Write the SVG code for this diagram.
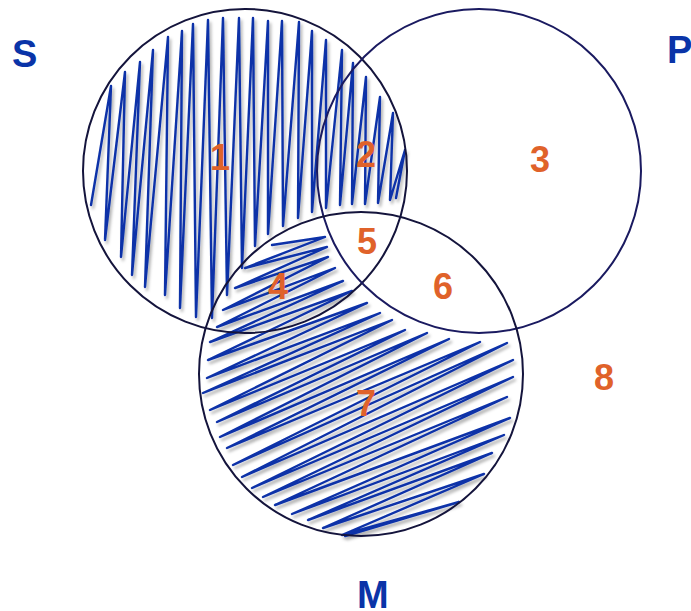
<svg xmlns="http://www.w3.org/2000/svg" width="691" height="611" viewBox="0 0 691 611">
<style>
.bg{fill:#ffffff}
.circ{fill:none;stroke:#14143c;stroke-width:2}
.hatch{fill:none;stroke:#0a30a8;stroke-width:2.4;stroke-linejoin:round;stroke-linecap:round;filter:url(#sh)}
.set{font-family:"Liberation Sans",Arial,sans-serif;font-weight:bold;font-size:38px;fill:#0a34a8}
.num{font-family:"Liberation Sans",Arial,sans-serif;font-weight:bold;font-size:36px;fill:#e0622a;text-anchor:middle}
</style>
<defs>
<filter id="sh" x="-10%" y="-10%" width="120%" height="120%">
<feDropShadow dx="2" dy="3" stdDeviation="1.5" flood-color="#000000" flood-opacity="0.3"/>
</filter>
</defs>
<rect class="bg" x="0" y="0" width="691" height="611"/>
<g id="hatching">
<polyline class="hatch" points="91,205 111,86 105,240 125,72 121,257 140,62 132,275 153,50 145,287 168,37 165,295 182,31 180,308 193,24 196,317 208,20 212,318 223,18 227,295 239,18 242,268 253,18 255,246 268,21 268,234 282,21 283,226 299,22 298,218 312,31 312,212 326,40 326,208 342,50 340,205 353,63 352,204 366,77 365,204 380,97 378,203 393,113 390,200 405,150 396,198"/>
<polyline class="hatch" points="272,245 325,237 245,268 327,247 235,288 328,257 223,310 335,268 217,327 343,281 210,342 352,291 208,360 367,303 207,378 380,313 203,393 392,320 210,410 405,330 217,422 427,333 220,437 449,339 227,448 480,342 233,465 507,343 242,477 513,360 252,488 513,377 263,497 507,397 275,505 510,418 292,514 504,435 308,520 492,453 323,528 484,474 342,535 459,502 345,536"/>
</g>
<g id="node-S">
<circle class="circ" cx="245" cy="171" r="162"/>
<text class="set" x="12" y="67">S</text>
</g>
<g id="node-P">
<circle class="circ" cx="479" cy="171" r="162" style="stroke:#1a1a60"/>
<text class="set" x="667" y="63">P</text>
</g>
<g id="node-M">
<circle class="circ" cx="361" cy="374" r="162"/>
<text class="set" x="357" y="608">M</text>
</g>
<g id="regions">
<text class="num" x="220" y="170">1</text>
<text class="num" x="366" y="167">2</text>
<text class="num" x="540" y="172">3</text>
<text class="num" x="278" y="299">4</text>
<text class="num" x="367" y="254">5</text>
<text class="num" x="443" y="299">6</text>
<text class="num" x="366" y="416">7</text>
<text class="num" x="604" y="390">8</text>
</g>
<g id="connectors"/>
</svg>
